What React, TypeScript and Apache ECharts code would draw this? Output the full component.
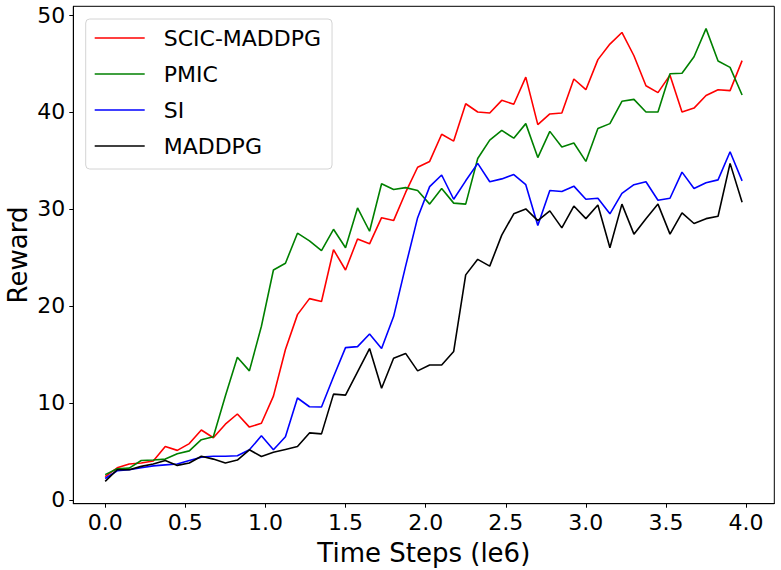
import React, { useEffect, useRef } from "react";
import * as echarts from "echarts";

const steps = [
  0, 0.075, 0.15, 0.225, 0.3, 0.375, 0.45, 0.525, 0.6, 0.675, 0.75, 0.825, 0.9, 0.975,
  1.05, 1.125, 1.2, 1.275, 1.35, 1.425, 1.5, 1.575, 1.65, 1.725, 1.8, 1.875, 1.95, 2.025,
  2.1, 2.175, 2.25, 2.325, 2.4, 2.475, 2.55, 2.625, 2.7, 2.775, 2.85, 2.925, 3.0, 3.075,
  3.15, 3.225, 3.3, 3.375, 3.45, 3.525, 3.6, 3.675, 3.75, 3.825, 3.9, 3.975,
];

const scicMaddpg = [
  2.4, 3.3, 3.7, 3.8, 4.0, 5.5, 5.1, 5.8, 7.2, 6.4, 7.8, 8.85, 7.5, 7.9, 10.7, 15.5, 19.1,
  20.75, 20.45, 25.8, 23.7, 26.9, 26.4, 29.1, 28.8, 31.7, 34.3, 34.9, 37.7, 37.0, 40.85, 40.0,
  39.9, 41.2, 40.8, 43.6, 38.7, 39.8, 39.9, 43.4, 42.3, 45.4, 47.0, 48.2, 45.8, 42.7, 42.0,
  43.8, 40.0, 40.4, 41.7, 42.3, 42.2, 45.3,
];

const pmic = [
  2.6, 3.2, 3.27, 4.06, 4.1, 4.2, 4.75, 5.05, 6.2, 6.5, 10.7, 14.7, 13.3, 17.9, 23.7, 24.4,
  27.5, 26.7, 25.7, 27.9, 26.0, 30.1, 27.7, 32.6, 32.0, 32.2, 31.9, 30.5, 32.1, 30.6, 30.5,
  35.2, 37.1, 38.1, 37.3, 38.8, 35.3, 38.0, 36.4, 36.8, 34.9, 38.3, 38.8, 41.1, 41.3, 40.0,
  40.0, 43.95, 44.0, 45.7, 48.6, 45.25, 44.6, 41.75,
];

const si = [
  2.2, 3.0, 3.1, 3.3, 3.5, 3.6, 3.7, 4.06, 4.4, 4.5, 4.5, 4.55, 5.16, 6.6, 5.16, 6.5, 10.5,
  9.6, 9.57, 12.7, 15.7, 15.8, 17.1, 15.6, 18.9, 24.1, 29.1, 32.3, 33.5, 31.0, 32.9, 34.7,
  32.8, 33.1, 33.55, 32.5, 28.3, 31.9, 31.8, 32.35, 31.0, 31.1, 29.5, 31.6, 32.5, 32.8, 30.9,
  31.1, 33.8, 32.1, 32.7, 33.0, 35.9, 32.9,
];

const maddpg = [
  1.9, 3.1, 3.1, 3.45, 3.7, 4.06, 3.55, 3.8, 4.5, 4.2, 3.8, 4.1, 5.16, 4.47, 4.9, 5.2, 5.5,
  6.9, 6.8, 10.9, 10.8, 13.2, 15.6, 11.5, 14.6, 15.1, 13.3, 13.9, 13.9, 15.3, 23.2, 24.8,
  24.1, 27.3, 29.5, 30.0, 28.8, 29.8, 28.05, 30.3, 29.0, 30.4, 26.0, 30.5, 27.4, 29.0, 30.5,
  27.4, 29.6, 28.5, 29.0, 29.25, 34.7, 30.7,
];

const seriesNames = ["SCIC-MADDPG", "PMIC", "SI", "MADDPG"];
const seriesColors = ["#ff0000", "#008000", "#0000ff", "#000000"];
const seriesValues = [scicMaddpg, pmic, si, maddpg];

const xTicks = [0, 0.5, 1.0, 1.5, 2.0, 2.5, 3.0, 3.5, 4.0];
const yTicks = [0, 10, 20, 30, 40, 50];

const FONT = "DejaVu Sans";

export default function App() {
  const ref = useRef<HTMLDivElement>(null);

  useEffect(() => {
    if (!ref.current) return;
    const chart = echarts.init(ref.current, null, { renderer: "svg" });
    const option = {
      animation: false,
      textStyle: { fontFamily: FONT, color: "#000" },
      grid: {
        left: 73.3,
        right: 6.7,
        top: 6.3,
        bottom: 66.3,
        show: true,
        borderColor: "#000",
        borderWidth: 1,
        backgroundColor: "transparent",
        outerBoundsMode: "none",
        containLabel: false,
      },
      legend: {
        data: seriesNames,
        orient: "vertical",
        left: 85.7,
        top: 19,
        icon: "rect",
        itemWidth: 50,
        itemHeight: 1.6,
        itemGap: 14,
        padding: [8, 11, 12, 9],
        backgroundColor: "rgba(255,255,255,0.8)",
        borderColor: "#d4d4d4",
        borderWidth: 1,
        borderRadius: 4,
        textStyle: { fontSize: 22, color: "#000", fontFamily: FONT, padding: [0, 0, 0, 14] },
      },
      xAxis: {
        type: "value",
        min: -0.199,
        max: 4.176,
        name: "Time Steps (le6)",
        nameLocation: "middle",
        nameGap: 36,
        nameMoveOverlap: false,
        nameTextStyle: { fontSize: 26, color: "#000", fontFamily: FONT },
        axisLine: { show: true, onZero: false, lineStyle: { color: "#000", width: 1 } },
        axisTick: { show: true, length: 4, customValues: xTicks, lineStyle: { color: "#000" } },
        axisLabel: {
          customValues: xTicks,
          formatter: (v: number) => v.toFixed(1),
          fontSize: 22,
          color: "#000",
          margin: 8,
          fontFamily: FONT,
        },
        splitLine: { show: false },
      },
      yAxis: {
        type: "value",
        min: -0.4,
        max: 50.9,
        name: "Reward",
        nameLocation: "middle",
        nameGap: 42,
        nameMoveOverlap: false,
        nameTextStyle: { fontSize: 26, color: "#000", fontFamily: FONT },
        axisLine: { show: true, onZero: false, lineStyle: { color: "#000", width: 1 } },
        axisTick: { show: true, length: 4, customValues: yTicks, lineStyle: { color: "#000" } },
        axisLabel: {
          customValues: yTicks,
          formatter: (v: number) => String(v),
          fontSize: 22,
          color: "#000",
          margin: 8,
          fontFamily: FONT,
        },
        splitLine: { show: false },
      },
      series: seriesNames.map((name, k) => ({
        name,
        type: "line",
        data: steps.map((x, i) => [x, seriesValues[k][i]]),
        symbol: "none",
        showSymbol: false,
        lineStyle: { color: seriesColors[k], width: 1.6 },
        itemStyle: { color: seriesColors[k] },
        z: 2 + k,
      })),
    };
    chart.setOption(option as any);
    return () => chart.dispose();
  }, []);

  return (
    <div
      ref={ref}
      style={{ position: "absolute", left: 0, top: 0, width: 781, height: 570 }}
    />
  );
}
